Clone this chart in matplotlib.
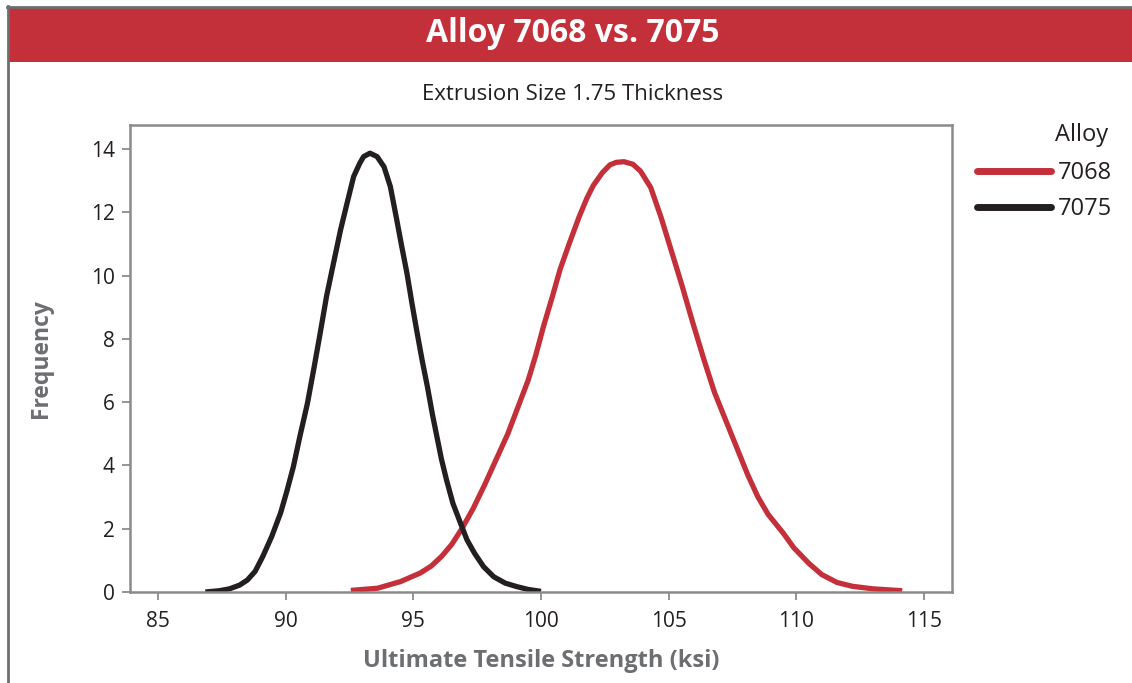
import matplotlib
matplotlib.use("Agg")
import matplotlib.pyplot as plt
from matplotlib.patches import Rectangle
from matplotlib.lines import Line2D

plt.rcParams['font.family'] = ['Open Sans', 'DejaVu Sans']

# Data
x_7075 = [86.85, 87.4, 87.8, 88.2, 88.5, 88.8, 89.1, 89.45, 89.8, 90.05, 90.3,
          90.55, 90.85, 91.1, 91.35, 91.6, 91.9, 92.15, 92.4, 92.66, 92.9,
          93.05, 93.3, 93.58, 93.85, 94.1, 94.35, 94.55, 94.75, 94.95, 95.15,
          95.35, 95.55, 95.75, 95.95, 96.1, 96.3, 96.55, 96.85, 97.1, 97.4,
          97.75, 98.15, 98.6, 99.05, 99.5, 100.0]
y_7075 = [0.0, 0.04, 0.1, 0.22, 0.38, 0.65, 1.12, 1.75, 2.5, 3.2, 3.96,
          4.9, 5.96, 7.05, 8.18, 9.35, 10.5, 11.45, 12.28, 13.13, 13.55,
          13.76, 13.87, 13.76, 13.44, 12.81, 11.76, 10.9, 10.07, 9.1, 8.18,
          7.3, 6.49, 5.6, 4.8, 4.2, 3.54, 2.8, 2.17, 1.65, 1.22,
          0.8, 0.48, 0.28, 0.17, 0.08, 0.02]

x_7068 = [92.55, 93.6, 94.5, 95.27, 95.7, 96.1, 96.5, 96.9, 97.35, 97.8, 98.25,
          98.7, 99.1, 99.5, 99.8, 100.1, 100.45, 100.75, 101.1, 101.49, 101.8,
          102.05, 102.4, 102.7, 102.95, 103.25, 103.6, 103.9, 104.3, 104.7,
          105.1, 105.5, 105.95, 106.4, 106.8, 107.25, 107.7, 108.1, 108.5,
          108.9, 109.5, 109.9, 110.5, 111.0, 111.6, 112.2, 113.0, 114.15]
y_7068 = [0.05, 0.12, 0.33, 0.6, 0.82, 1.12, 1.5, 2.0, 2.65, 3.4, 4.2,
          5.0, 5.85, 6.7, 7.5, 8.4, 9.35, 10.2, 11.0, 11.85, 12.45,
          12.85, 13.25, 13.5, 13.58, 13.6, 13.52, 13.3, 12.78, 11.85,
          10.8, 9.75, 8.5, 7.3, 6.3, 5.4, 4.5, 3.7, 3.0,
          2.45, 1.85, 1.4, 0.9, 0.55, 0.3, 0.18, 0.1, 0.04]

x_ticks = [85, 90, 95, 100, 105, 110, 115]
y_ticks = [0, 2, 4, 6, 8, 10, 12, 14]
series_names = ['7068', '7075']
colors = ['#C4303A', '#231F20']

W, H = 1132, 683
fig = plt.figure(figsize=(W / 100, H / 100), dpi=100)

# Title banner and frame
fig.patches.append(Rectangle((9 / W, 1 - 62 / H), 1 - 9 / W, 54 / H,
                             transform=fig.transFigure, facecolor='#C4303A',
                             edgecolor='none', zorder=0))
fig.add_artist(Line2D([8 / W, 8 / W], [0, 1 - 6 / H], transform=fig.transFigure,
                      color='#6E6E6E', lw=2.0))
fig.add_artist(Line2D([7 / W, 1], [1 - 7 / H, 1 - 7 / H], transform=fig.transFigure,
                      color='#6E6E6E', lw=2.0))
fig.text(573 / W, 1 - 34 / H, 'Alloy 7068 vs. 7075', color='white',
         fontsize=23, fontweight='bold', ha='center', va='center')
fig.text(573 / W, 1 - 94 / H, 'Extrusion Size 1.75 Thickness', color='#231F20',
         fontsize=16, ha='center', va='center')

ax = fig.add_axes([130 / W, 1 - 592 / H, (952 - 130) / W, (592 - 125) / H])
ax.plot(x_7068, y_7068, color=colors[0], lw=3.8, solid_joinstyle='round',
        solid_capstyle='butt', label=series_names[0])
ax.plot(x_7075, y_7075, color=colors[1], lw=3.8, solid_joinstyle='round',
        solid_capstyle='butt', label=series_names[1])

ax.set_xlim(83.9, 116.1)
ax.set_ylim(0, 14.76)
ax.set_xticks(x_ticks)
ax.set_yticks(y_ticks)
ax.tick_params(axis='both', colors='#808285', labelcolor='#231F20',
               labelsize=15, length=6, width=1.2, direction='out')
ax.tick_params(axis='x', pad=8)
ax.tick_params(axis='y', pad=5)
for s in ax.spines.values():
    s.set_color('#8A8B8E')
    s.set_linewidth(1.8)

ax.set_xlabel('Ultimate Tensile Strength (ksi)', fontsize=17, fontweight='bold',
              color='#6D6E71', labelpad=12)
ax.set_ylabel('Frequency', fontsize=16.5, fontweight='bold', color='#6D6E71',
              labelpad=27)

# Legend
fig.text(1055 / W, 1 - 135 / H, 'Alloy', fontsize=17, color='#231F20',
         ha='left', va='center')
leg = fig.legend(loc='upper left', bbox_to_anchor=(968 / W, 1 - 152 / H),
                 frameon=False, fontsize=17, handlelength=3.1,
                 handletextpad=0.3, labelspacing=0.5, borderaxespad=0)
for h in leg.get_lines():
    h.set_linewidth(5)
    h.set_solid_capstyle('round')
for t in leg.get_texts():
    t.set_color('#231F20')

fig.savefig('out.png', dpi=100)
